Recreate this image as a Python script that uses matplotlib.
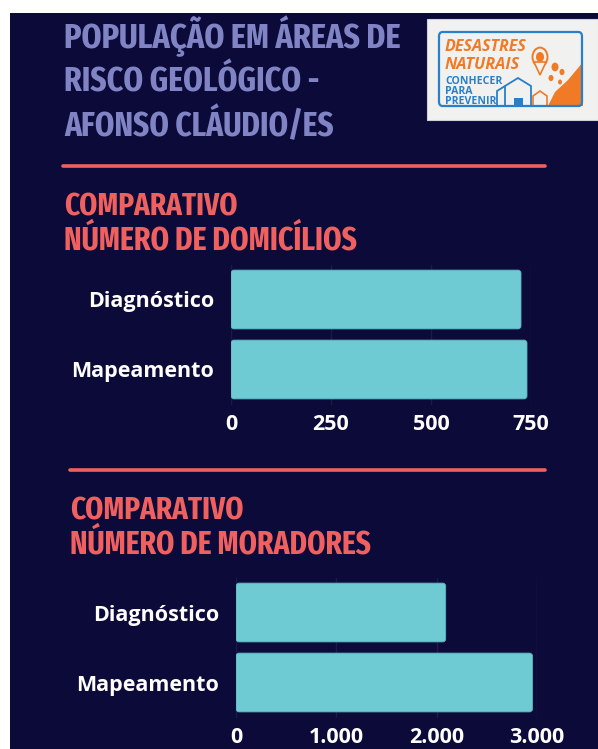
import matplotlib.pyplot as plt
from matplotlib import font_manager
from matplotlib.font_manager import FontProperties
from matplotlib.patches import Rectangle, FancyBboxPatch, Polygon, Circle
from matplotlib.ticker import FuncFormatter

W, H = 598, 749

# dados
categorias = ['Diagnóstico', 'Mapeamento']
domicilios = [725, 740]
moradores = [2090, 2955]
ticks_dom = [0, 250, 500, 750]
ticks_mor = [0, 1000, 2000, 3000]

titulo = ['POPULAÇÃO EM ÁREAS DE', 'RISCO GEOLÓGICO -', 'AFONSO CLÁUDIO/ES']
sub_dom = ['COMPARATIVO', 'NÚMERO DE DOMICÍLIOS']
sub_mor = ['COMPARATIVO', 'NÚMERO DE MORADORES']

fundo = '#0b0a38'
lilas = '#8184c4'
coral = '#f0605f'
barra = '#6ecbd3'
grade = '#1b1a4c'
laranja = '#f07a26'
azul = '#2a7fc9'

nomes = {f.name for f in font_manager.fontManager.ttflist}
texto = 'Open Sans' if 'Open Sans' in nomes else 'DejaVu Sans'


# fonte mais estreita que existir
def nota(f):
    n = (f.name + ' ' + str(f.fname)).lower()
    s = str(f.stretch).lower()
    p = 0
    if 'extracondensed' in n or 'extra-condensed' in s or 'ultra' in s:
        p = 3
    elif 'semicondensed' in n or 'semi-condensed' in s:
        p = 1
    elif 'condensed' in n or 'narrow' in n or 'condensed' in s:
        p = 2
    if p and str(f.weight) in ('700', 'bold'):
        p += 0.5
    if 'italic' in n or f.style != 'normal':
        p = 0
    return p


cands = sorted(font_manager.fontManager.ttflist, key=nota, reverse=True)
if cands and nota(cands[0]) > 0:
    fp_cond = FontProperties(fname=cands[0].fname)
else:
    fp_cond = FontProperties(family='DejaVu Sans', weight='bold')


def fx(x):
    return x / W


def fy(y):
    return 1 - y / H


fig = plt.figure(figsize=(W / 100, H / 100), dpi=100, facecolor='white')
fig.patches.append(Rectangle((fx(10), 0), 1 - fx(10), fy(13), transform=fig.transFigure,
                             facecolor=fundo, edgecolor='none', zorder=-5))
rend = fig.canvas.get_renderer()


def linha(x, y, s, cor, largura, fp=None, tam=None, **kw):
    t = fig.text(fx(x), fy(y), s, color=cor, fontproperties=(fp or fp_cond).copy(),
                 va='baseline', ha='left', **kw)
    if tam:
        t.set_fontsize(tam)
        return t
    t.set_fontsize(20)
    w = t.get_window_extent(rend).width
    t.set_fontsize(20 * largura / w)
    return t


# título
for s, yb, larg in zip(titulo, [48, 92, 136], [336, 254, 269]):
    linha(64, yb, s, lilas, larg)

for y0, x0 in [(166, 63), (470, 70)]:
    fig.add_artist(plt.Line2D([fx(x0), fx(545)], [fy(y0), fy(y0)], color=coral,
                              linewidth=2.6, solid_capstyle='round'))

for s, yb, larg in zip(sub_dom, [216, 249], [173, 293]):
    linha(64, yb, s, coral, larg)
for s, yb, larg in zip(sub_mor, [520, 553], [173, 301]):
    linha(70, yb, s, coral, larg)


def grafico(left, right, top, bottom, valores, ticks, xmax):
    ax = fig.add_axes([fx(left), fy(bottom), fx(right) - fx(left), (bottom - top) / H])
    ax.set_facecolor('none')
    ypos = list(range(len(categorias)))
    barras = ax.barh(ypos, valores, height=0.84, color=barra, zorder=3)
    ax.set_xlim(0, xmax)
    ax.set_ylim(1.5, -0.5)
    # cantos arredondados (raio ~3 px)
    ux = xmax / (right - left)
    uy = 2 / (bottom - top)
    for b in barras:
        b.set_visible(False)
        ax.add_patch(FancyBboxPatch((b.get_x(), b.get_y()), b.get_width(), b.get_height(),
                                    boxstyle=f'round,pad=0,rounding_size={3 * ux}',
                                    mutation_aspect=uy / ux, facecolor=barra,
                                    edgecolor='#5cb2c0', linewidth=0.6, zorder=3))
    ax.set_yticks(ypos)
    ax.set_yticklabels(categorias)
    ax.set_xticks(ticks)
    ax.xaxis.set_major_formatter(FuncFormatter(lambda v, p: f'{int(v):,}'.replace(',', '.')))
    ax.grid(axis='x', color=grade, linewidth=1, zorder=0)
    for s in ax.spines.values():
        s.set_visible(False)
    ax.tick_params(length=0, colors='white', labelsize=15.5)
    ax.tick_params(axis='x', pad=7)
    ax.tick_params(axis='y', pad=12)
    for lab in ax.get_xticklabels() + ax.get_yticklabels():
        lab.set_fontweight('bold')
        lab.set_family(texto)
    return ax


grafico(231, 531, 264.5, 404.5, domicilios, ticks_dom, 750)
grafico(236, 537, 577.5, 717.5, moradores, ticks_mor, 3000)

# logo
fig.patches.append(Rectangle((fx(427), fy(120)), fx(598) - fx(427), (120 - 19) / H,
                             transform=fig.transFigure, facecolor='#f1f1f0',
                             edgecolor='#cfd0dc', linewidth=0.8, zorder=2))
fig.patches.append(Polygon([(fx(x), fy(y)) for x, y in
                            [(583, 62), (583, 106), (548, 106), (555, 92), (568, 80)]],
                           closed=True, transform=fig.transFigure, facecolor=laranja,
                           edgecolor='none', zorder=3))
for x1, y1, x2, y2 in [(527, 34, 540, 46), (538, 34, 556, 52), (552, 34, 570, 55), (566, 36, 580, 50)]:
    fig.add_artist(plt.Line2D([fx(x1), fx(x2)], [fy(y1), fy(y2)], color=laranja, linewidth=2.2))
fig.patches.append(Circle((fx(540), fy(57)), 7.5 / W, transform=fig.transFigure,
                          facecolor='#f1f1f0', edgecolor=laranja, linewidth=1.4, zorder=4))
fig.patches.append(Polygon([(fx(534), fy(62)), (fx(546), fy(62)), (fx(540), fy(75))],
                           closed=True, transform=fig.transFigure, facecolor='#f1f1f0',
                           edgecolor=laranja, linewidth=1.2, zorder=4))
fig.patches.append(Circle((fx(540), fy(57)), 4 / W, transform=fig.transFigure,
                          facecolor=laranja, edgecolor='none', zorder=5))
for cx, cy, r in [(555, 67, 3.5), (562, 72, 2.5), (551, 78, 2.5), (560, 82, 2)]:
    fig.patches.append(Circle((fx(cx), fy(cy)), r / W, transform=fig.transFigure,
                              facecolor=laranja, edgecolor='none', zorder=4))
casa = [(505, 106), (505, 86), (518, 78), (531, 86), (531, 106)]
fig.patches.append(Polygon([(fx(x), fy(y)) for x, y in casa], closed=False,
                           transform=fig.transFigure, facecolor='none', edgecolor=azul,
                           linewidth=1.3, zorder=4))
fig.patches.append(Polygon([(fx(x), fy(y)) for x, y in [(497, 106), (497, 91), (505, 86)]],
                           closed=False, transform=fig.transFigure, facecolor='none',
                           edgecolor=azul, linewidth=1.3, zorder=4))
fig.patches.append(Rectangle((fx(514), fy(106)), 9 / W, 8 / H, transform=fig.transFigure,
                             facecolor=azul, edgecolor='none', zorder=4))
fig.patches.append(Polygon([(fx(x), fy(y)) for x, y in [(533, 106), (533, 96), (540, 91), (547, 96), (547, 106)]],
                           closed=False, transform=fig.transFigure, facecolor='none',
                           edgecolor=laranja, linewidth=1.2, zorder=4))
fig.patches.append(FancyBboxPatch((fx(439), fy(106)), fx(582) - fx(439), (106 - 32) / H,
                                  boxstyle='round,pad=0,rounding_size=0.006',
                                  transform=fig.transFigure, facecolor='none',
                                  edgecolor=azul, linewidth=1.6, zorder=5))
fp_logo = FontProperties(family=texto, weight='bold', style='italic')
linha(445, 51, 'DESASTRES', laranja, 82, fp=fp_logo, zorder=6)
linha(445, 69, 'NATURAIS', laranja, 75, fp=fp_logo, zorder=6)
fig.add_artist(plt.Line2D([fx(445), fx(517)], [fy(72), fy(72)], color=laranja, linewidth=1.2))
fp_azul = FontProperties(family=texto, weight='bold')
t0 = linha(445, 83.5, 'CONHECER', azul, 57, fp=fp_azul, zorder=6)
tam_azul = t0.get_fontsize()
linha(445, 94, 'PARA', azul, 0, fp=fp_azul, tam=tam_azul, zorder=6)
linha(445, 104.5, 'PREVENIR', azul, 0, fp=fp_azul, tam=tam_azul, zorder=6)

fig.savefig('out.png', dpi=100, facecolor=fig.get_facecolor())
